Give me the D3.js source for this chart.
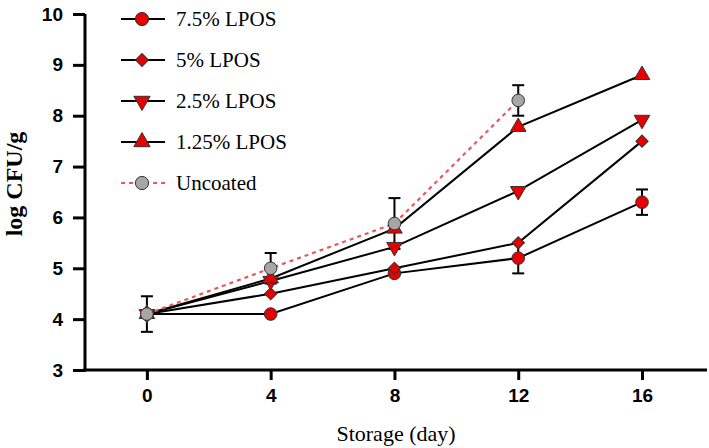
<!DOCTYPE html>
<html>
<head>
<meta charset="utf-8">
<script src="https://cdn.jsdelivr.net/npm/d3@7"></script>
<style>
  html, body { margin: 0; padding: 0; background: #fff; }
  svg { display: block; }
</style>
</head>
<body>
<svg id="chart" width="709" height="448"></svg>
<script>
const days = [0, 4, 8, 12, 16];
const seriesNames = ["7.5% LPOS", "5% LPOS", "2.5% LPOS", "1.25% LPOS", "Uncoated"];
const lpos75 = [4.1, 4.1, 4.9, 5.2, 6.3];
const lpos75Err = [0, 0, 0, 0.3, 0.25];
const lpos5 = [4.1, 4.5, 5.0, 5.5, 7.5];
const lpos25 = [4.1, 4.75, 5.42, 6.52, 7.92];
const lpos125 = [4.1, 4.8, 5.78, 7.78, 8.8];
const uncoated = [4.1, 5.0, 5.88, 8.3, null];
const uncoatedErr = [0.35, 0.3, 0.5, 0.3, null];
const yTicks = [3, 4, 5, 6, 7, 8, 9, 10];
const xTicks = [0, 4, 8, 12, 16];

const svg = d3.select("#chart");
const x = d3.scaleLinear().domain([-2, 18.1]).range([85, 707]);
const y = d3.scaleLinear().domain([3, 10]).range([370, 14]);

const series = [
  { name: seriesNames[0], vals: lpos75, err: lpos75Err, shape: d3.symbolCircle, size: 125, fill: "#e60000", dash: null, lineColor: "#000" },
  { name: seriesNames[1], vals: lpos5, err: null, shape: "diamond", size: 75, fill: "#e60000", dash: null, lineColor: "#000" },
  { name: seriesNames[2], vals: lpos25, err: null, shape: "down", size: 105, fill: "#e60000", dash: null, lineColor: "#000" },
  { name: seriesNames[3], vals: lpos125, err: null, shape: d3.symbolTriangle, size: 105, fill: "#e60000", dash: null, lineColor: "#000" },
  { name: seriesNames[4], vals: uncoated, err: uncoatedErr, shape: d3.symbolCircle, size: 125, fill: "#a6a6a6", dash: "4,4", lineColor: "#e8585a" }
];

function symPath(s, size) {
  if (s === "down") return d3.symbol().type(d3.symbolTriangle).size(size)();
  if (s === "diamond") return d3.symbol().type(d3.symbolSquare).size(size)();
  return d3.symbol().type(s).size(size)();
}
function symTransform(s, cx, cy) {
  if (s === "down") return `translate(${cx},${cy}) rotate(180)`;
  if (s === "diamond") return `translate(${cx},${cy}) rotate(45)`;
  return `translate(${cx},${cy})`;
}

// Axes
const yAxis = d3.axisLeft(y).tickValues(yTicks).tickFormat(d3.format("d")).tickSize(12).tickPadding(10);
const gy = svg.append("g").attr("transform", "translate(85,0)").call(yAxis);
gy.select(".domain").attr("stroke-width", 3).attr("d", "M0,14V371.5");
gy.selectAll(".tick line").attr("stroke-width", 3);
gy.selectAll(".tick text").attr("font-family", "Liberation Sans, Arial, sans-serif").attr("font-weight", "bold").attr("font-size", 19).attr("fill", "#000");

const xAxis = d3.axisBottom(x).tickValues(xTicks).tickFormat(d3.format("d")).tickSize(10).tickPadding(9);
const gx = svg.append("g").attr("transform", "translate(0,370)").call(xAxis);
gx.select(".domain").attr("stroke-width", 3).attr("d", "M83.5,0H707");
gx.selectAll(".tick line").attr("stroke-width", 3);
gx.selectAll(".tick text").attr("font-family", "Liberation Sans, Arial, sans-serif").attr("font-weight", "bold").attr("font-size", 19).attr("fill", "#000");

// Axis labels
svg.append("text").attr("x", 396).attr("y", 441).attr("text-anchor", "middle")
  .attr("font-family", "Liberation Serif, Times New Roman, serif").attr("font-size", 22).text("Storage (day)");
svg.append("text").attr("transform", "translate(22,184) rotate(-90)").attr("text-anchor", "middle")
  .attr("font-family", "Liberation Serif, Times New Roman, serif").attr("font-weight", "bold").attr("font-size", 24).text("log CFU/g");

// Lines
const line = d3.line().defined(d => d.v != null).x(d => x(d.d)).y(d => y(d.v));
series.forEach(s => {
  const pts = days.map((d, j) => ({ d, v: s.vals[j] }));
  svg.append("path").datum(pts).attr("d", line).attr("fill", "none")
    .attr("stroke", s.lineColor).attr("stroke-width", s.dash ? 2.2 : 2)
    .attr("stroke-dasharray", s.dash);
});

// Error bars
series.forEach(s => {
  if (!s.err) return;
  days.forEach((d, j) => {
    const e = s.err[j];
    if (!e || s.vals[j] == null) return;
    const cx = x(d), y1 = y(s.vals[j] + e), y2 = y(s.vals[j] - e);
    const g = svg.append("g").attr("stroke", "#000").attr("stroke-width", 2);
    g.append("line").attr("x1", cx).attr("x2", cx).attr("y1", y1).attr("y2", y2);
    g.append("line").attr("x1", cx - 6).attr("x2", cx + 6).attr("y1", y1).attr("y2", y1);
    g.append("line").attr("x1", cx - 6).attr("x2", cx + 6).attr("y1", y2).attr("y2", y2);
  });
});

// Markers
series.forEach(s => {
  days.forEach((d, j) => {
    if (s.vals[j] == null) return;
    svg.append("path").attr("d", symPath(s.shape, s.size))
      .attr("transform", symTransform(s.shape, x(d), y(s.vals[j])))
      .attr("fill", s.fill).attr("stroke", "#333").attr("stroke-width", 1);
  });
});

// Legend
const legendY = [19, 60, 101, 142, 183];
series.forEach((s, i) => {
  const ly = legendY[i];
  svg.append("line").attr("x1", 121).attr("x2", 165).attr("y1", ly).attr("y2", ly)
    .attr("stroke", s.lineColor).attr("stroke-width", 2).attr("stroke-dasharray", s.dash);
  svg.append("path").attr("d", symPath(s.shape, s.size * 1.1))
    .attr("transform", symTransform(s.shape, 142, ly))
    .attr("fill", s.fill).attr("stroke", "#333").attr("stroke-width", 1);
  svg.append("text").attr("x", 176).attr("y", ly + 7)
    .attr("font-family", "Liberation Serif, Times New Roman, serif").attr("font-size", 21).text(s.name);
});
</script>
</body>
</html>
